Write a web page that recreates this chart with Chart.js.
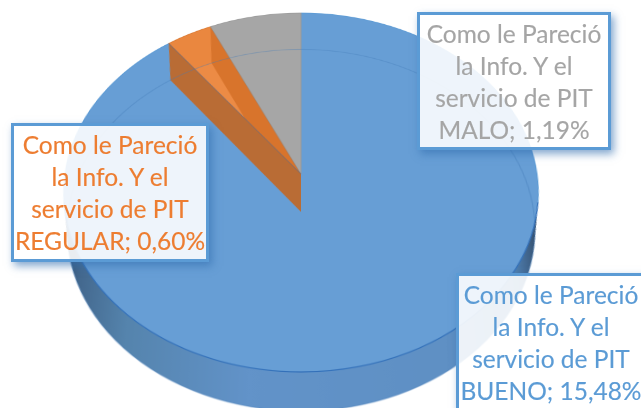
<!DOCTYPE html>
<html><head><meta charset="utf-8">
<script src="https://cdn.jsdelivr.net/npm/chart.js@4"></script>
<style>
html,body{margin:0;padding:0;background:#fff;width:641px;height:408px;overflow:hidden}
#stage{position:absolute;left:0;top:0;width:641px;height:408px;overflow:hidden}
#tilt{position:absolute;left:21px;top:-106px;width:560px;height:560px;transform-origin:280px 280px;transform:perspective(1509px) rotateX(41.2deg)}
.lab{position:absolute;box-sizing:border-box;border:3px solid #5B9BD5;background:rgba(255,255,255,.89);box-shadow:3px 4px 8px rgba(50,110,175,.6);font-family:Lato,"Open Sans",sans-serif;font-size:24.5px;line-height:32px;text-align:center;white-space:nowrap;-webkit-text-stroke:.15px currentColor}
</style></head><body>
<div id="stage"><div id="tilt"><canvas id="c" width="560" height="560"></canvas></div></div>
<script>
const seriesName = ["Como le Pareció", "la Info. Y el", "servicio de PIT"];
const categories = ["BUENO", "REGULAR", "MALO"];
const values = [15.48, 0.60, 1.19];
const colors = ["#679ED5", "#EA873F", "#A6A6A6"];
const textColors = ["#5B9BD5", "#ED7D31", "#A5A5A5"];
const labelBoxes = [[456,273,190,140],[11,123,198,139],[417,12,194,138]];

const DEPTH = 49.2, SCALE = 0.965;
const extrude = {
  id: 'extrude',
  beforeDatasetsDraw(chart) {
    const ctx = chart.ctx, a = chart.getDatasetMeta(0).data[0];
    const g = ctx.createLinearGradient(a.x - a.outerRadius, 0, a.x + a.outerRadius, 0);
    g.addColorStop(0, '#2f4a66'); g.addColorStop(.06, '#44698f'); g.addColorStop(.16, '#5584ad');
    g.addColorStop(.4, '#6293c9'); g.addColorStop(.78, '#5f90c4'); g.addColorStop(.93, '#4f7fb0'); g.addColorStop(1, '#2c3f58');
    ctx.save(); ctx.fillStyle = g;
    for (let i = 40; i >= 1; i--) {
      const t = i / 40, s = 1 - (1 - SCALE) * t;
      ctx.beginPath(); ctx.arc(a.x, a.y + DEPTH * t, a.outerRadius * s, 0, Math.PI * 2); ctx.fill();
    }
    ctx.restore();
  },
  afterDatasetsDraw(chart) {
    const ctx = chart.ctx, d = chart.getDatasetMeta(0).data, o = d[1];
    const R = o.outerRadius, cx = o.x, cy = o.y, by = cy + DEPTH, bR = R * SCALE;
    const wall = (ang, fill) => {
      ctx.beginPath();
      ctx.moveTo(cx, cy);
      ctx.lineTo(cx + R * Math.cos(ang), cy + R * Math.sin(ang));
      ctx.lineTo(cx + bR * Math.cos(ang), by + bR * Math.sin(ang));
      ctx.lineTo(cx, by);
      ctx.closePath(); ctx.fillStyle = fill; ctx.fill();
    };
    ctx.save();
    // far wall of the wedge, seen through its top
    wall(o.endAngle, 'rgba(200,100,30,.55)');
    // floor of the wedge
    ctx.beginPath(); ctx.moveTo(cx, by); ctx.arc(cx, by, bR, o.startAngle, o.endAngle); ctx.closePath();
    ctx.fillStyle = 'rgba(240,145,80,.35)'; ctx.fill();
    // near wall, over the blue slice
    wall(o.startAngle, '#B96C35');
    ctx.strokeStyle = 'rgba(110,110,125,.7)'; ctx.lineWidth = 1;
    ctx.beginPath(); ctx.moveTo(cx, cy);
    ctx.lineTo(cx + R * Math.cos(o.startAngle), cy + R * Math.sin(o.startAngle)); ctx.stroke();
    // lower rim seen through the translucent top
    ctx.beginPath(); ctx.arc(cx, by, bR, 0, Math.PI * 2);
    ctx.strokeStyle = 'rgba(70,125,185,.4)'; ctx.lineWidth = 1.2; ctx.stroke();
    // darker front edge of the top face
    ctx.beginPath(); ctx.arc(cx, cy, R, 0.05 * Math.PI, 0.95 * Math.PI);
    ctx.strokeStyle = 'rgba(45,105,180,.85)'; ctx.lineWidth = 1.2; ctx.stroke();
    ctx.restore();
  }
};

new Chart(document.getElementById('c'), {
  type: 'pie',
  data: { labels: categories, datasets: [{ data: values, backgroundColor: colors,
    borderColor: ["#5B9BD5", "#D9772F", "#9A9A9A"], borderWidth: 1 }] },
  options: { responsive: false, animation: false, devicePixelRatio: 2, radius: 236, rotation: 0,
    layout: { padding: 0 },
    plugins: { legend: { display: false }, tooltip: { enabled: false } } },
  plugins: [extrude]
});

const stage = document.getElementById('stage');
categories.forEach((cat, i) => {
  const el = document.createElement('div');
  el.className = 'lab';
  const [l, t, w, h] = labelBoxes[i];
  el.style.cssText = `left:${l}px;top:${t}px;width:${w}px;height:${h}px;color:${textColors[i]};padding-top:3px`;
  const pct = values[i].toFixed(2).replace('.', ',') + '%';
  el.innerHTML = seriesName.join('<br>') + `<br>${cat}; ${pct}`;
  stage.appendChild(el);
});
</script>
</body></html>
